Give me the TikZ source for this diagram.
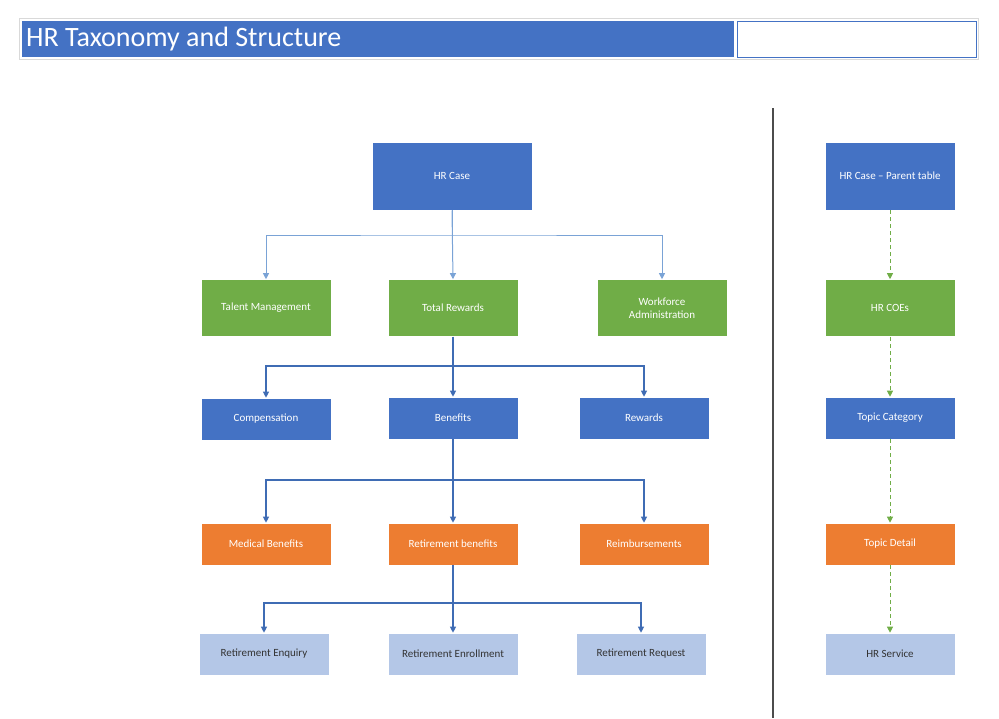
\documentclass[tikz,border=0pt]{standalone}
\usepackage{fontspec}
\setmainfont{Carlito}
\usetikzlibrary{arrows.meta}
\definecolor{cblue}{HTML}{4472C4}
\definecolor{cgreen}{HTML}{70AD47}
\definecolor{corange}{HTML}{ED7D31}
\definecolor{clight}{HTML}{B4C7E7}
\definecolor{clink}{HTML}{7AA3D6}
\definecolor{cdark}{HTML}{3F6CB4}
\begin{document}
\begin{tikzpicture}[x=1pt,y=-1pt,
  box/.style={draw=white,line width=0.6pt,minimum width=130pt,align=center,font=\fontsize{11}{13}\selectfont,text=white,inner sep=1pt},
  tall/.style={box,minimum height=57pt},
  short/.style={box,minimum height=42pt},
  bl/.style={fill=cblue},gr/.style={fill=cgreen},or/.style={fill=corange},lt/.style={fill=clight,text=black!80},
  conn/.style={draw=cdark,line width=1.1pt,-{Triangle[length=6pt,width=6pt]}},
  connl/.style={conn,draw=clink,line width=1pt},
  dconn/.style={draw=cgreen,line width=1pt,dash pattern=on 4pt off 3pt,-{Triangle[length=6pt,width=6pt]}}]
\useasboundingbox (0,0) rectangle (999,718);
% title
\draw[black!15,line width=1pt] (19,18) rectangle (978,59);
\fill[cblue] (22,21) rectangle (734,57);
\draw[cblue,fill=white,line width=0.8pt] (737,21) rectangle (976,57);
\node[anchor=west,text=white,font=\fontsize{28}{32}\selectfont,inner sep=0pt] (title) at (26,39) {HR Taxonomy and Structure};
\draw[black!70,line width=1.2pt] (773,108) -- (773,718);
% left tree
\node[tall,bl,minimum width=160pt,minimum height=68pt] (hr) at (452,176) {HR Case};
\node[tall,gr] (tm) at (266,308) {Talent Management};
\node[tall,gr] (tr) at (453,308) {Total Rewards};
\node[tall,gr] (wa) at (662,308) {Workforce\\Administration};
\node[short,bl] (co) at (266,419) {Compensation};
\node[short,bl] (be) at (453,418) {Benefits};
\node[short,bl] (rw) at (644,418) {Rewards};
\node[short,or] (mb) at (266,544) {Medical Benefits};
\node[short,or] (rb) at (453,544) {Retirement benefits};
\node[short,or] (re) at (644,544) {Reimbursements};
\node[short,lt] (rq) at (264,654) {Retirement Enquiry};
\node[short,lt] (rn) at (453,654) {Retirement Enrollment};
\node[short,lt] (rr) at (641,654) {Retirement Request};
\draw[connl] (hr.south) -- (tr.north);
\draw[connl] (hr.south) |- (453,235) -| (tm.north);
\draw[connl] (hr.south) |- (453,235) -| (wa.north);
\draw[conn] (tr.south) -- (be.north);
\draw[conn] (tr.south) |- (453,366) -| (co.north);
\draw[conn] (tr.south) |- (453,366) -| (rw.north);
\draw[conn] (be.south) -- (rb.north);
\draw[conn] (be.south) |- (453,480) -| (mb.north);
\draw[conn] (be.south) |- (453,480) -| (re.north);
\draw[conn] (rb.south) -- (rn.north);
\draw[conn] (rb.south) |- (453,603) -| (rq.north);
\draw[conn] (rb.south) |- (453,603) -| (rr.north);
% right column
\node[tall,bl,minimum height=68pt] (p1) at (890,176) {HR Case -- Parent table};
\node[tall,gr] (p2) at (890,308) {HR COEs};
\node[short,bl] (p3) at (890,418) {Topic Category};
\node[short,or] (p4) at (890,544) {Topic Detail};
\node[short,lt] (p5) at (890,654) {HR Service};
\draw[dconn] (p1) -- (p2);
\draw[dconn] (p2) -- (p3);
\draw[dconn] (p3) -- (p4);
\draw[dconn] (p4) -- (p5);
\end{tikzpicture}
\end{document}
